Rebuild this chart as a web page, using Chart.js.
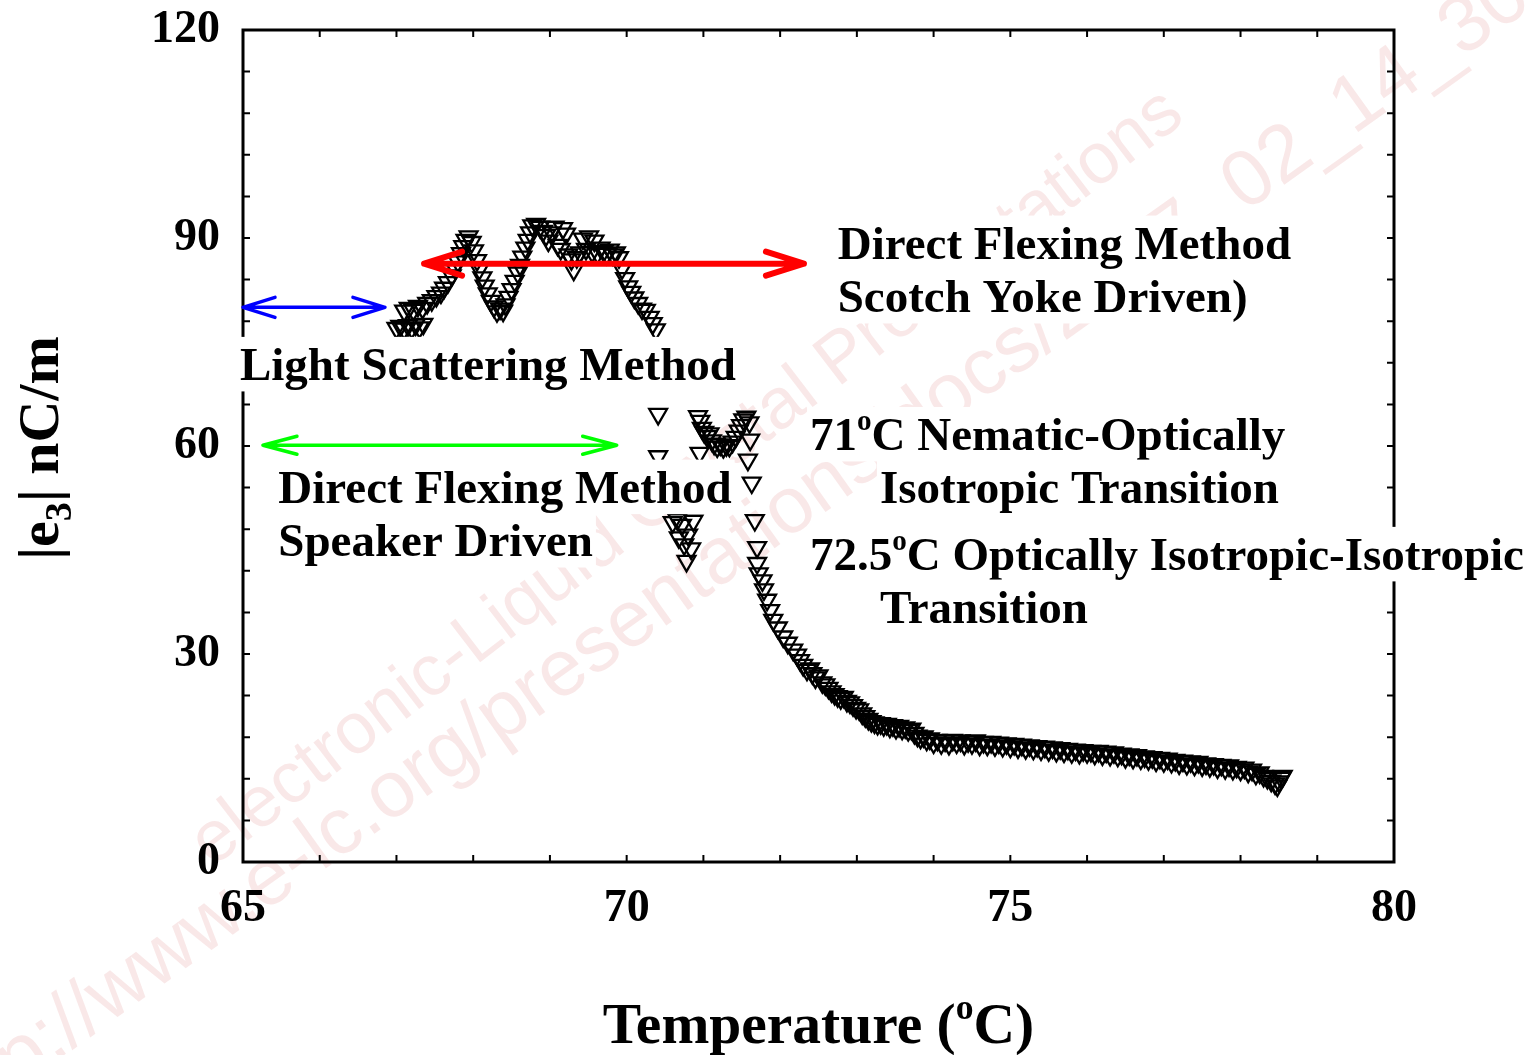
<!DOCTYPE html>
<html>
<head>
<meta charset="utf-8">
<script src="https://cdn.jsdelivr.net/npm/chart.js@4.4.1/dist/chart.umd.min.js"></script>
<style>
  html, body { margin: 0; padding: 0; background: #fff; }
</style>
</head>
<body>
<canvas id="chart" width="1536" height="1055"></canvas>
<script>
// ---- data ----
const xTicks = [65, 70, 75, 80];
const yTicks = [0, 30, 60, 90, 120];

// direct flexing, scotch yoke driven (upper branch)
const yokeT = [
  67.00, 67.05, 67.10, 67.15, 67.20, 67.25, 67.30, 67.35, 67.10, 67.16,
  67.22, 67.28, 67.34, 67.40, 67.46, 67.52, 67.58, 67.62, 67.67, 67.72,
  67.76, 67.80, 67.84, 67.87, 67.90, 67.94, 67.98, 68.01, 68.05, 68.08,
  68.12, 68.15, 68.19, 68.23, 68.27, 68.31, 68.35, 68.39, 68.42, 68.46,
  68.50, 68.54, 68.58, 68.61, 68.64, 68.68, 68.71, 68.74, 68.77, 68.82,
  68.87, 68.91, 68.95, 68.98, 69.02, 69.06, 69.10, 69.14, 69.17, 69.21,
  69.24, 69.28, 69.31, 69.35, 69.39, 69.43, 69.47, 69.51, 69.55, 69.58,
  69.62, 69.66, 69.70, 69.74, 69.78, 69.82, 69.86, 69.90, 69.94, 69.98,
  70.02, 70.06, 70.10, 70.15, 70.20, 70.25, 70.30, 70.34, 70.38
];
const yokeE3 = [
  77.0, 77.3, 76.9, 77.4, 77.0, 77.5, 77.1, 77.6, 79.5, 79.9,
  79.6, 80.2, 79.9, 80.6, 81.0, 81.6, 82.1, 82.8, 83.6, 84.6,
  85.7, 86.6, 87.8, 88.8, 89.7, 90.2, 89.4, 88.2, 86.8, 85.5,
  84.3, 83.1, 82.0, 80.9, 80.1, 79.4, 79.8, 79.5, 80.4, 81.5,
  82.6, 83.8, 85.0, 86.1, 87.3, 88.6, 89.7, 90.8, 91.8, 92.0,
  91.6, 91.0, 90.4, 89.6, 90.8, 91.6, 89.0, 88.4, 91.4, 90.6,
  87.6, 86.9, 85.4, 87.2, 87.9, 89.9, 88.4, 90.2, 88.0, 89.6,
  87.8, 88.6, 88.1, 87.7, 88.3, 87.6, 87.9, 87.2, 85.6, 84.2,
  83.0, 82.2, 81.4, 80.6, 79.8, 79.6, 78.6, 77.7, 76.8
];

// direct flexing, speaker driven (lower branch)
const speakerT = [
  70.41, 70.41, 70.60, 70.66, 70.68, 70.72, 70.75, 70.78, 70.80, 70.84,
  70.87, 70.93, 70.96, 70.98, 70.95, 71.01, 71.05, 71.08, 71.11, 71.14,
  71.18, 71.22, 71.26, 71.30, 71.34, 71.38, 71.42, 71.46, 71.49, 71.52,
  71.56, 71.60, 71.61, 71.58, 71.63, 71.67, 71.70, 71.70, 71.72, 71.77,
  71.79, 71.83, 71.87, 71.91, 71.97, 72.04, 72.10, 72.17, 72.22, 72.26,
  72.30, 72.35, 72.39, 72.42, 72.46, 72.50, 72.55, 72.59, 72.63, 72.67,
  72.71, 72.75, 72.79, 72.83, 72.87, 72.91, 72.95, 72.99, 73.03, 73.07,
  73.11, 73.15, 73.19, 73.23, 73.27, 73.31, 73.35, 73.39, 73.43, 73.47,
  73.51, 73.55, 73.59, 73.63, 73.67, 73.71, 73.75, 73.79, 73.83, 73.87,
  73.91, 73.95, 74.00, 74.05, 74.10, 74.15, 74.20, 74.25, 74.30, 74.35,
  74.40, 74.45, 74.50, 74.55, 74.60, 74.65, 74.70, 74.75, 74.80, 74.85,
  74.90, 74.95, 75.00, 75.05, 75.10, 75.15, 75.20, 75.25, 75.30, 75.35,
  75.40, 75.45, 75.50, 75.55, 75.60, 75.65, 75.70, 75.75, 75.80, 75.85,
  75.90, 75.95, 76.00, 76.05, 76.10, 76.15, 76.20, 76.25, 76.30, 76.35,
  76.40, 76.45, 76.50, 76.55, 76.60, 76.65, 76.70, 76.75, 76.80, 76.85,
  76.90, 76.95, 77.00, 77.05, 77.10, 77.15, 77.20, 77.25, 77.30, 77.35,
  77.40, 77.45, 77.50, 77.55, 77.60, 77.65, 77.70, 77.75, 77.80, 77.85,
  77.90, 77.95, 78.00, 78.05, 78.10, 78.15, 78.20, 78.25, 78.30, 78.35,
  78.40, 78.45, 78.48, 78.50, 78.53, 78.55
];
const speakerE3 = [
  64.6, 58.5, 49.0, 49.4, 46.8, 48.6, 45.8, 43.4, 47.2, 45.2,
  49.2, 64.3, 63.6, 62.6, 59.0, 62.0, 61.4, 61.8, 60.8, 60.3,
  59.9, 60.2, 59.8, 60.1, 60.0, 60.6, 61.3, 62.2, 63.0, 63.8,
  64.2, 63.4, 60.9, 58.0, 54.7, 49.3, 45.4, 43.1, 41.6, 40.6,
  39.3, 37.8, 36.3, 34.9, 33.8, 32.5, 31.6, 30.6, 29.9, 29.1,
  28.4, 27.7, 27.9, 27.2, 26.6, 26.9, 25.9, 25.6, 25.1, 24.6,
  24.2, 23.9, 23.6, 23.8, 23.2, 23.0, 22.6, 22.2, 22.0, 21.4,
  21.0, 20.6, 20.3, 20.1, 19.9, 20.0, 19.7, 19.9, 19.5, 19.7,
  19.3, 19.6, 19.2, 19.4, 19.0, 19.2, 18.6, 18.2, 17.9, 18.1,
  17.6, 17.8, 17.2, 17.6, 17.1, 17.5, 17.0, 17.6, 17.2, 17.5,
  17.0, 17.4, 17.1, 17.5, 16.9, 17.3, 16.9, 17.3, 16.8, 17.2,
  16.7, 17.1, 16.6, 17.0, 16.5, 16.9, 16.4, 16.8, 16.3, 16.7,
  16.2, 16.6, 16.1, 16.5, 16.0, 16.4, 15.9, 16.3, 15.8, 16.2,
  15.7, 16.1, 15.8, 16.0, 15.6, 16.0, 15.5, 15.9, 15.4, 15.8,
  15.3, 15.6, 15.1, 15.5, 15.0, 15.4, 14.9, 15.2, 14.8, 15.1,
  14.6, 15.0, 14.5, 14.9, 14.4, 14.7, 14.2, 14.6, 14.1, 14.5,
  14.0, 14.4, 13.9, 14.2, 13.8, 14.1, 13.6, 14.0, 13.5, 13.9,
  13.4, 13.7, 13.3, 13.6, 13.0, 13.3, 12.7, 12.9, 12.4, 12.1,
  11.7, 11.3, 11.0, 11.6, 12.1, 12.4
];

// double arrows: [from T, to T, at e3]
const arrowBlue  = [65.0, 66.85, 80.0];
const arrowRed   = [67.36, 72.31, 86.3];
const arrowGreen = [65.26, 69.87, 60.1];

// annotations anchored in data units (left edge, baseline)
const notes = [
  { t: 72.75, e: 87.0, parts: [['Direct Flexing Method']] },
  { t: 72.75, e: 79.3, parts: [['Scotch Yoke Driven)']] },
  { t: 64.96, e: 69.5, parts: [['Light Scattering Method']] },
  { t: 65.46, e: 51.8, parts: [['Direct Flexing Method']] },
  { t: 65.46, e: 44.1, parts: [['Speaker Driven']] },
  { t: 72.39, e: 59.4, parts: [['71'], ['o', 'sup'], ['C Nematic-Optically']] },
  { t: 73.30, e: 51.8, parts: [['Isotropic Transition']] },
  { t: 72.39, e: 42.1, parts: [['72.5'], ['o', 'sup'], ['C Optically Isotropic-Isotropic']] },
  { t: 73.30, e: 34.5, parts: [['Transition']] }
];

const SERIF = 'Liberation Serif';
const pts = (xs, ys) => xs.map((x, i) => ({ x: x, y: ys[i] }));

function font(size) { return 'bold ' + size + 'px "' + SERIF + '"'; }

// draw text runs with super/subscripts, returns width
function drawRuns(ctx, parts, x, y, size, measureOnly) {
  let cx = x;
  parts.forEach(([txt, kind]) => {
    let s = size, dy = 0;
    if (kind === 'sup') { s = size * 0.62; dy = -size * 0.42; }
    if (kind === 'sub') { s = size * 0.66; dy = size * 0.22; }
    ctx.font = font(s);
    if (!measureOnly) ctx.fillText(txt, cx, y + dy);
    cx += ctx.measureText(txt).width;
  });
  return cx - x;
}

function doubleArrow(ctx, x1, x2, y, color, lw, hl, hh) {
  ctx.save();
  ctx.strokeStyle = color;
  ctx.lineWidth = lw;
  ctx.lineCap = 'round';
  ctx.lineJoin = 'round';
  ctx.beginPath();
  ctx.moveTo(x1, y); ctx.lineTo(x2, y);
  ctx.moveTo(x1 + hl, y - hh); ctx.lineTo(x1, y); ctx.lineTo(x1 + hl, y + hh);
  ctx.moveTo(x2 - hl, y - hh); ctx.lineTo(x2, y); ctx.lineTo(x2 - hl, y + hh);
  ctx.stroke();
  ctx.restore();
}

const decor = {
  id: 'decor',
  beforeDraw(chart) {
    const ctx = chart.ctx;
    ctx.save();
    ctx.fillStyle = '#fff';
    ctx.fillRect(0, 0, chart.width, chart.height);
    // watermark
    ctx.fillStyle = 'rgba(210,90,90,0.14)';
    ctx.textBaseline = 'alphabetic';
    ctx.save();
    ctx.font = '72px "Liberation Sans"';
    ctx.translate(212, 868);
    ctx.rotate(-37.5 * Math.PI / 180);
    ctx.fillText('electronic-Liquid Crystal Presentations', 0, 0);
    ctx.restore();
    ctx.save();
    ctx.font = '80px "Liberation Sans"';
    ctx.translate(-55, 1140);
    ctx.rotate(-35.5 * Math.PI / 180);
    ctx.fillText('http://www.e-lc.org/presentations/docs/2007_02_14_30_', 0, 0);
    ctx.restore();
    ctx.restore();
  },
  beforeDatasetsDraw(chart) {
    const ctx = chart.ctx, a = chart.chartArea;
    const xs = chart.scales.x, ys = chart.scales.y;
    ctx.save();
    ctx.strokeStyle = '#000';
    ctx.lineWidth = 2;
    ctx.beginPath();
    for (let v = 66; v < 80; v++) {
      const px = xs.getPixelForValue(v);
      ctx.moveTo(px, a.bottom); ctx.lineTo(px, a.bottom - 7);
      ctx.moveTo(px, a.top); ctx.lineTo(px, a.top + 7);
    }
    for (let v = 6; v < 120; v += 6) {
      const py = ys.getPixelForValue(v);
      ctx.moveTo(a.left, py); ctx.lineTo(a.left + 7, py);
      ctx.moveTo(a.right, py); ctx.lineTo(a.right - 7, py);
    }
    ctx.stroke();
    ctx.lineWidth = 3;
    ctx.strokeRect(a.left, a.top, a.right - a.left, a.bottom - a.top);
    ctx.restore();
  },
  afterDatasetsDraw(chart) {
    const ctx = chart.ctx, a = chart.chartArea;
    const xs = chart.scales.x, ys = chart.scales.y;
    const X = v => xs.getPixelForValue(v), Y = v => ys.getPixelForValue(v);

    // annotations on white boxes
    const size = 47;
    ctx.save();
    ctx.textBaseline = 'alphabetic';
    ctx.textAlign = 'left';
    notes.forEach(n => {
      const x = X(n.t), y = Y(n.e);
      const w = drawRuns(ctx, n.parts, x, y, size, true);
      ctx.fillStyle = '#fff';
      ctx.fillRect(x - 3, y - size * 0.92, w + 6, size * 1.16);
      ctx.fillStyle = '#000';
      drawRuns(ctx, n.parts, x, y, size, false);
    });
    ctx.restore();

    doubleArrow(ctx, X(arrowBlue[0]), X(arrowBlue[1]), Y(arrowBlue[2]), '#0000ff', 3.5, 32, 10);
    doubleArrow(ctx, X(arrowRed[0]), X(arrowRed[1]), Y(arrowRed[2]), '#ff0000', 6, 38, 12);
    doubleArrow(ctx, X(arrowGreen[0]), X(arrowGreen[1]), Y(arrowGreen[2]), '#00ff00', 3.5, 34, 9);

    // axis titles
    ctx.save();
    ctx.fillStyle = '#000';
    ctx.textBaseline = 'alphabetic';
    const xt = [['Temperature ('], ['o', 'sup'], ['C)']];
    const tw = drawRuns(ctx, xt, 0, 0, 57.5, true);
    drawRuns(ctx, xt, (a.left + a.right) / 2 - tw / 2, 1043, 57.5, false);
    const yt = [['|e'], ['3', 'sub'], ['| nC/m']];
    const yw = drawRuns(ctx, yt, 0, 0, 58, true);
    ctx.translate(58, (a.top + a.bottom) / 2 + 2);
    ctx.rotate(-Math.PI / 2);
    drawRuns(ctx, yt, -yw / 2, 0, 58, false);
    ctx.restore();
  }
};

const marker = {
  showLine: false,
  pointStyle: 'triangle',
  rotation: 180,
  pointRadius: 10.3,
  pointHoverRadius: 10.3,
  borderColor: '#000',
  borderWidth: 2.3,
  backgroundColor: 'rgba(0,0,0,0)'
};

const tickFont = { family: SERIF, weight: 'bold', size: 46 };

new Chart(document.getElementById('chart'), {
  type: 'scatter',
  data: {
    datasets: [
      Object.assign({ label: 'Scotch Yoke Driven', data: pts(yokeT, yokeE3) }, marker),
      Object.assign({ label: 'Speaker Driven', data: pts(speakerT, speakerE3) }, marker)
    ]
  },
  options: {
    responsive: false,
    animation: false,
    layout: { padding: { left: 0, right: 142, top: 30, bottom: 0 } },
    plugins: { legend: { display: false }, tooltip: { enabled: false } },
    scales: {
      x: {
        type: 'linear', min: 65, max: 80,
        afterBuildTicks: s => { s.ticks = xTicks.map(v => ({ value: v })); },
        afterFit: s => { s.height = 193; s.paddingLeft = 0; s.paddingRight = 0; },
        ticks: { font: tickFont, color: '#000', padding: 20, maxRotation: 0 },
        grid: { display: false, drawTicks: false },
        border: { display: false }
      },
      y: {
        type: 'linear', min: 0, max: 120,
        afterBuildTicks: s => { s.ticks = yTicks.map(v => ({ value: v })); },
        afterFit: s => { s.width = 243; s.paddingTop = 0; s.paddingBottom = 0; },
        ticks: { font: tickFont, color: '#000', padding: 23 },
        grid: { display: false, drawTicks: false },
        border: { display: false }
      }
    }
  },
  plugins: [decor]
});
</script>
</body>
</html>
